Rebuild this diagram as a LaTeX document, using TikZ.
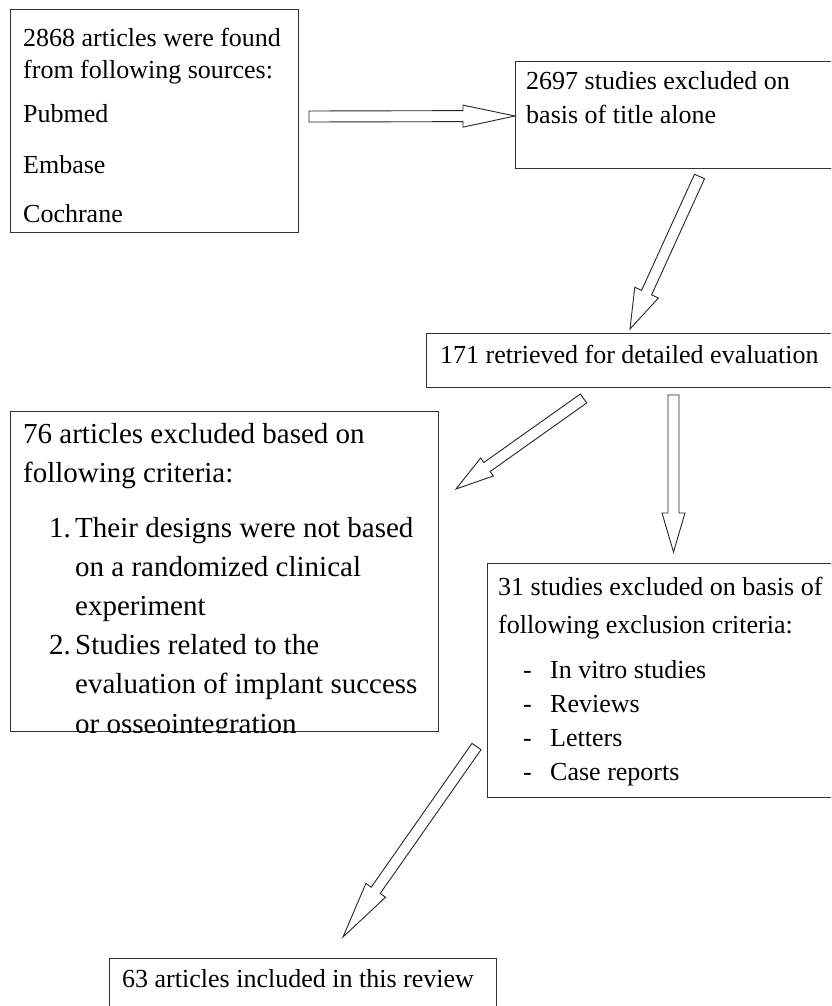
\documentclass[tikz,border=0pt]{standalone}
\usepackage{fontspec}
\setmainfont{Liberation Serif}
\usetikzlibrary{calc}
\tikzset{
  box/.style={draw=black!80, line width=1.2pt, rectangle, inner sep=0pt, anchor=north west},
  txt/.style={inner sep=0pt, anchor=base west, font=\fontsize{26}{31}\selectfont},
  txtb/.style={inner sep=0pt, anchor=base west, font=\fontsize{29}{35}\selectfont},
  arrowline/.style={draw=black!85, line width=0.9pt, line join=miter, fill=white},
}
\newcommand\blockarrow[5]{%
  \coordinate (ba-base) at ($(#2)!#5!(#1)$);
  \draw[arrowline] ($(#1)!#3!90:(#2)$) -- ($(ba-base)!#3!90:(#2)$) -- ($(ba-base)!#4!90:(#2)$) -- (#2)
    -- ($(ba-base)!#4!-90:(#2)$) -- ($(ba-base)!#3!-90:(#2)$) -- ($(#1)!#3!-90:(#2)$) -- cycle;
}
\begin{document}
\begin{tikzpicture}[x=1pt, y=-1pt]
\useasboundingbox (0,0) rectangle (831,1006);
\clip (0,0) rectangle (831,1006);
\fill[white] (0,0) rectangle (831,1006);

% boxes
\node[box, minimum width=288pt, minimum height=223pt] (b1) at (10,9) {};
\node[box, minimum width=345pt, minimum height=107pt] (b2) at (515,61) {};
\node[box, minimum width=420pt, minimum height=54pt] (b3) at (426,333) {};
\node[box, minimum width=428pt, minimum height=320pt] (b76) at (10,411) {};
\node[box, minimum width=360pt, minimum height=234pt] (b31) at (487,563) {};
\node[box, minimum width=387pt, minimum height=80pt] (b63) at (109,958) {};

% box 1 text
\node[txt] (t1a) at (23,47) {2868 articles were found};
\node[txt] (t1b) at (23,79) {from following sources:};
\node[txt] (t1c) at (23,123) {Pubmed};
\node[txt] (t1d) at (23,173) {Embase};
\node[txt] (t1e) at (23,222) {Cochrane};

% box 2 text
\node[txt] (t2a) at (526,90) {2697 studies excluded on};
\node[txt] (t2b) at (526,124) {basis of title alone};

% box 3 text
\node[txt] (t3a) at (440,363) {171 retrieved for detailed evaluation};

% box 76 text (clipped by its box)
\begin{scope}
  \clip (b76.north west) rectangle (b76.south east);
  \node[txtb] (t76a) at (23,443) {76 articles excluded based on};
  \node[txtb] (t76b) at (23,482) {following criteria:};
  \node[txtb] (t76c) at (49,537) {1.};
  \node[txtb] (t76d) at (75,537) {Their designs were not based};
  \node[txtb] (t76e) at (75,576) {on a randomized clinical};
  \node[txtb] (t76f) at (75,615) {experiment};
  \node[txtb] (t76g) at (49,654) {2.};
  \node[txtb] (t76h) at (75,654) {Studies related to the};
  \node[txtb] (t76i) at (75,693) {evaluation of implant success};
  \node[txtb] (t76j) at (75,733) {or osseointegration};
\end{scope}

% box 31 text
\node[txt] (t31a) at (498,595) {31 studies excluded on basis of};
\node[txt] (t31b) at (498,633) {following exclusion criteria:};
\node[txt] (t31c) at (523,678) {-};
\node[txt] (t31d) at (550,678) {In vitro studies};
\node[txt] (t31e) at (523,712) {-};
\node[txt] (t31f) at (550,712) {Reviews};
\node[txt] (t31g) at (523,746) {-};
\node[txt] (t31h) at (550,746) {Letters};
\node[txt] (t31i) at (523,780) {-};
\node[txt] (t31j) at (550,780) {Case reports};

% box 63 text
\node[txt] (t63a) at (122,987) {63 articles included in this review};

% arrow end points
\coordinate (a1s) at (309,116.5);
\coordinate (a1e) at (b2.west |- 0,116);
\coordinate (a2s) at (699.5,176.5);
\coordinate (a2e) at (630,329);
\coordinate (a3s) at (583.5,398.5);
\coordinate (a3e) at (456,489);
\coordinate (a4s) at (673.5,395);
\coordinate (a4e) at (673.5,552);
\coordinate (a5s) at (476.5,746.5);
\coordinate (a5e) at (343,937);

\blockarrow{a1s}{a1e}{5.5pt}{11pt}{52pt}
\blockarrow{a2s}{a2e}{5.5pt}{13pt}{40pt}
\blockarrow{a3s}{a3e}{5.5pt}{11pt}{38pt}
\blockarrow{a4s}{a4e}{5.5pt}{11.5pt}{39pt}
\blockarrow{a5s}{a5e}{5.5pt}{12pt}{57pt}
\end{tikzpicture}
\end{document}
